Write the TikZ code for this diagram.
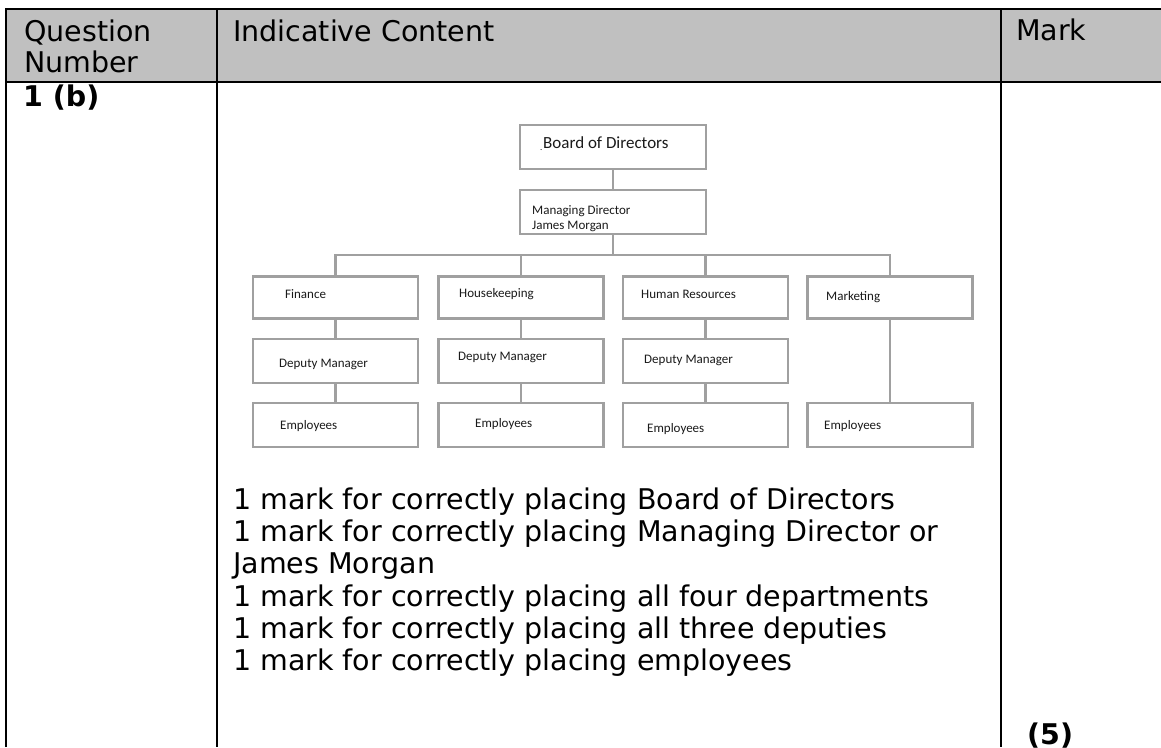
\documentclass[tikz,border=0pt]{standalone}
\usepackage{fontspec}
\setmainfont{DejaVu Sans}
\newfontfamily\chartfont{Carlito}
\definecolor{hdrgray}{HTML}{C0C0C0}
\definecolor{boxgray}{HTML}{A0A0A0}
\definecolor{charttext}{HTML}{1A1A1A}
\tikzset{
  tblline/.style={line width=2.6pt, black},
  cell/.style={anchor=base west, inner sep=0pt, font=\fontsize{28.5}{32}\selectfont},
  cellb/.style={cell, font=\fontsize{28.5}{32}\selectfont\bfseries},
  orgbox/.style={draw=boxgray, line width=2.2pt, fill=white, rectangle, inner sep=0pt},
  deptbox/.style={orgbox, minimum width=165pt, minimum height=42pt},
  topbox/.style={orgbox, minimum width=186pt, minimum height=44pt},
  orgline/.style={draw=boxgray, line width=2.2pt},
  lbl/.style={anchor=base west, inner sep=0pt, text=charttext, font=\chartfont\fontsize{13}{15}\selectfont},
  biglbl/.style={lbl, font=\chartfont\fontsize{17}{19}\selectfont}
}
\begin{document}
\begin{tikzpicture}[x=1pt,y=-1pt]
\useasboundingbox (0,0) rectangle (1161,747);
% table
\fill[hdrgray] (6,9) rectangle (1161,82);
\draw[tblline] (6,747) -- (6,9) -- (1161,9);
\draw[tblline] (6,82) -- (1161,82);
\draw[tblline] (217,9) -- (217,747);
\draw[tblline] (1001,9) -- (1001,747);
\node[cell] (q1) at (24,41) {Question};
\node[cell] (q2) at (24,72) {Number};
\node[cell] (ic) at (233,41) {Indicative Content};
\node[cell] (mk) at (1016,40) {Mark};
\node[cellb] (qn) at (23,106) {1 (b)};
\node[cellb] (sc) at (1027,744) {(5)};
% body text
\node[cell] (t1) at (233,509) {1 mark for correctly placing Board of Directors};
\node[cell] (t2) at (233,541) {1 mark for correctly placing Managing Director or};
\node[cell] (t3) at (233,573) {James Morgan};
\node[cell] (t4) at (233,606) {1 mark for correctly placing all four departments};
\node[cell] (t5) at (233,638) {1 mark for correctly placing all three deputies};
\node[cell] (t6) at (233,670) {1 mark for correctly placing employees};
% org chart boxes
\node[topbox] (board) at (613,147) {};
\node[topbox] (md) at (613,212) {};
\node[deptbox] (fin) at (335.5,297.5) {};
\node[deptbox] (hk) at (521,297.5) {};
\node[deptbox] (hr) at (705.5,297.5) {};
\node[deptbox] (mkt) at (890,297.5) {};
\node[deptbox, minimum height=44pt] (dfin) at (335.5,361) {};
\node[deptbox, minimum height=44pt] (dhk) at (521,361) {};
\node[deptbox, minimum height=44pt] (dhr) at (705.5,361) {};
\node[deptbox, minimum height=44pt] (efin) at (335.5,425) {};
\node[deptbox, minimum height=44pt] (ehk) at (521,425) {};
\node[deptbox, minimum height=44pt] (ehr) at (705.5,425) {};
\node[deptbox, minimum height=44pt] (emkt) at (890,425) {};
% connectors
\coordinate (bus) at (613,255);
\draw[orgline] (board.south) -- (md.north);
\draw[orgline] (md.south) -- (bus);
\draw[orgline] (fin.north) -- (fin.north |- bus) -- (mkt.north |- bus) -- (mkt.north);
\draw[orgline] (hk.north) -- (hk.north |- bus);
\draw[orgline] (hr.north) -- (hr.north |- bus);
\draw[orgline] (fin.south) -- (dfin.north);
\draw[orgline] (dfin.south) -- (efin.north);
\draw[orgline] (hk.south) -- (dhk.north);
\draw[orgline] (dhk.south) -- (ehk.north);
\draw[orgline] (hr.south) -- (dhr.north);
\draw[orgline] (dhr.south) -- (ehr.north);
\draw[orgline] (mkt.south) -- (emkt.north);
% chart labels
\node[lbl, font=\chartfont\fontsize{9}{9}\selectfont] (dot) at (540,150) {.};
\node[biglbl] (lboard) at (543,148) {Board of Directors};
\node[lbl] (lmd1) at (532,214) {Managing Director};
\node[lbl] (lmd2) at (532,229) {James Morgan};
\node[lbl] (lfin) at (285,298) {Finance};
\node[lbl] (lhk) at (459,297) {Housekeeping};
\node[lbl] (lhr) at (641,298) {Human Resources};
\node[lbl] (lmkt) at (826,300) {Marketing};
\node[lbl] (ldfin) at (279,367) {Deputy Manager};
\node[lbl] (ldhk) at (458,360) {Deputy Manager};
\node[lbl] (ldhr) at (644,363) {Deputy Manager};
\node[lbl] (lefin) at (280,429) {Employees};
\node[lbl] (lehk) at (475,427) {Employees};
\node[lbl] (lehr) at (647,432) {Employees};
\node[lbl] (lemkt) at (824,429) {Employees};
\end{tikzpicture}
\end{document}
